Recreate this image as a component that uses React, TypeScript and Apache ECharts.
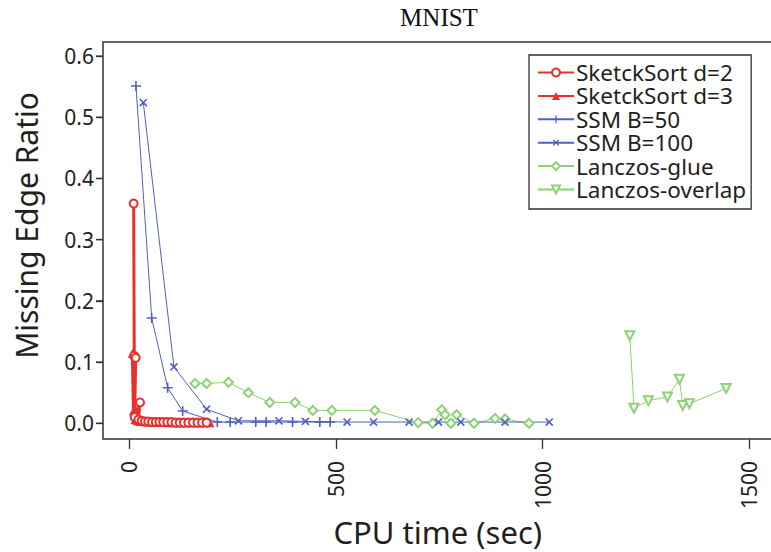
import React, { useEffect, useRef } from "react";
import * as echarts from "echarts";

// ---- data (CPU time in sec, missing edge ratio) ----
const sketchD2Time = [10.6, 12, 15.5, 13, 26, 22, 30, 38, 46, 55, 64, 73, 82, 92, 102, 112, 122, 132, 143, 154, 165, 176, 187];
const sketchD2Ratio = [0.359, 0.11, 0.107, 0.01, 0.034, 0.006, 0.004, 0.003, 0.003, 0.002, 0.002, 0.002, 0.002, 0.002, 0.002, 0.001, 0.001, 0.001, 0.001, 0.001, 0.001, 0.001, 0.001];

const sketchD3Time = [7.3, 10, 14, 19, 26, 34, 42, 50, 59, 68, 77, 87, 97, 107, 117, 128, 139, 150, 161, 172, 183, 195];
const sketchD3Ratio = [0.114, 0.02, 0.006, 0.004, 0.003, 0.003, 0.002, 0.002, 0.002, 0.002, 0.002, 0.002, 0.001, 0.001, 0.001, 0.001, 0.001, 0.001, 0.001, 0.001, 0.001, 0.001];

const ssm50Time = [16.2, 54.2, 92.9, 129.2, 213, 244, 306, 331, 395, 461, 486];
const ssm50Ratio = [0.551, 0.172, 0.058, 0.02, 0.002, 0.002, 0.002, 0.002, 0.002, 0.002, 0.002];

const ssm100Time = [33.9, 108, 187, 264, 362, 426, 527, 591, 677, 748, 802, 909, 1016];
const ssm100Ratio = [0.524, 0.092, 0.023, 0.004, 0.004, 0.003, 0.002, 0.002, 0.002, 0.002, 0.002, 0.002, 0.002];

const glueTime = [159, 187, 240, 288, 340, 401, 444, 490, 594, 699, 734, 756, 764, 778, 792, 834, 885, 909, 967];
const glueRatio = [0.065, 0.065, 0.067, 0.05, 0.034, 0.034, 0.021, 0.021, 0.021, 0.001, 0.0, 0.022, 0.014, 0.0, 0.014, 0.0, 0.008, 0.007, 0.0];

const overlapTime = [1211, 1221, 1256, 1302, 1331, 1339, 1355, 1444];
const overlapRatio = [0.143, 0.0245, 0.037, 0.043, 0.072, 0.029, 0.032, 0.057];

const seriesNames = ["SketckSort d=2", "SketckSort d=3", "SSM B=50", "SSM B=100", "Lanczos-glue", "Lanczos-overlap"];
const xTicks = [0, 500, 1000, 1500];
const yTicks = [0, 0.1, 0.2, 0.3, 0.4, 0.5, 0.6];

const X_MIN = -63.6;
const X_MAX = 1600;
const Y_MIN = -0.0257;
const Y_MAX = 0.623;

const zip = (a: number[], b: number[]) => a.map((v, i) => [v, b[i]]);

const RED = "#ea2f2c";
const BLUE = "#4f60c0";
const GREEN = "#8cd276";
const PLUS = "path://M4.2,0H5.8V4.2H10V5.8H5.8V10H4.2V5.8H0V4.2H4.2Z";
const FONT = "Noto Sans";

export default function App() {
  const ref = useRef<HTMLDivElement>(null);
  useEffect(() => {
    const chart = echarts.init(ref.current!, null, { renderer: "svg" });
    chart.setOption({
      animation: false,
      backgroundColor: "#fff",
      title: {
        text: "MNIST",
        left: 434,
        textAlign: "center",
        top: 0,
        textStyle: { fontFamily: "Liberation Serif", fontWeight: "normal", fontSize: 25, color: "#111" },
      },
      grid: {
        left: 103,
        top: 42,
        right: 9.4,
        bottom: 113,
        outerBoundsMode: "none",
        containLabel: false,
        show: true,
        borderColor: "#333",
        borderWidth: 1.5,
        backgroundColor: "transparent",
      },
      legend: {
        orient: "vertical",
        left: 529,
        top: 55,
        data: seriesNames,
        itemWidth: 36,
        itemHeight: 10,
        itemGap: 0.4,
        padding: [6, 5, 8, 8],
        borderColor: "#333",
        borderWidth: 1.3,
        backgroundColor: "#fff",
        textStyle: { fontFamily: FONT, fontSize: 22.5, lineHeight: 20, color: "#231f20", padding: [0, 0, 0, -3] },
      },
      xAxis: {
        type: "value",
        min: X_MIN,
        max: X_MAX,
        name: "CPU time (sec)",
        nameLocation: "middle",
        nameGap: 79,
        nameTextStyle: { fontFamily: FONT, fontSize: 31, lineHeight: 26, color: "#231f20", padding: [0, 18, 0, 0] },
        axisLine: { show: false, onZero: false },
        splitLine: { show: false },
        axisTick: { show: true, length: 10, customValues: xTicks, lineStyle: { color: "#333", width: 1.3 } },
        axisLabel: {
          customValues: xTicks,
          rotate: 90,
          margin: 22,
          fontFamily: FONT,
          fontSize: 21,
          color: "#231f20",
          formatter: (v: number) => String(v),
        },
      },
      yAxis: {
        type: "value",
        min: Y_MIN,
        max: Y_MAX,
        name: "Missing Edge Ratio",
        nameLocation: "middle",
        nameGap: 62,
        nameTextStyle: { fontFamily: FONT, fontSize: 30, color: "#231f20", padding: [0, 0, 0, 30] },
        axisLine: { show: false, onZero: false },
        splitLine: { show: false },
        axisTick: { show: true, length: 7, customValues: yTicks, lineStyle: { color: "#333", width: 1.3 } },
        axisLabel: {
          customValues: yTicks,
          margin: 9,
          fontFamily: FONT,
          fontSize: 21,
          color: "#231f20",
          formatter: (v: number) => v.toFixed(1),
        },
      },
      series: [
        {
          name: "Lanczos-glue",
          type: "line",
          data: zip(glueTime, glueRatio),
          color: GREEN,
          symbol: "emptyDiamond",
          symbolSize: 9,
          itemStyle: { borderWidth: 1.3 },
          lineStyle: { width: 1 },
        },
        {
          name: "Lanczos-overlap",
          type: "line",
          data: zip(overlapTime, overlapRatio),
          color: GREEN,
          symbol: "emptyTriangle",
          symbolRotate: 180,
          symbolSize: 9,
          itemStyle: { borderWidth: 1.3 },
          lineStyle: { width: 1 },
        },
        {
          name: "SSM B=50",
          type: "line",
          data: zip(ssm50Time, ssm50Ratio),
          color: BLUE,
          symbol: PLUS,
          symbolSize: 10,
          lineStyle: { width: 1 },
        },
        {
          name: "SSM B=100",
          type: "line",
          data: zip(ssm100Time, ssm100Ratio),
          color: BLUE,
          symbol: PLUS,
          symbolRotate: 45,
          symbolSize: 10,
          lineStyle: { width: 1 },
        },
        {
          name: "SketckSort d=3",
          type: "line",
          data: zip(sketchD3Time, sketchD3Ratio),
          color: RED,
          symbol: "triangle",
          symbolSize: 9,
          lineStyle: { width: 3 },
        },
        {
          name: "SketckSort d=2",
          type: "line",
          data: zip(sketchD2Time, sketchD2Ratio),
          color: RED,
          symbol: "emptyCircle",
          symbolSize: 8,
          itemStyle: { borderWidth: 2 },
          lineStyle: { width: 3 },
        },
      ],
    });
    // y-axis tick marks placed through the chart's own scales
    const leftPx = chart.convertToPixel({ xAxisIndex: 0 }, X_MIN) as number;
    chart.setOption({
      graphic: yTicks.map((v) => {
        const py = chart.convertToPixel({ yAxisIndex: 0 }, v) as number;
        return {
          type: "line",
          shape: { x1: leftPx - 7, y1: py, x2: leftPx, y2: py },
          style: { stroke: "#333", lineWidth: 1.3 },
          silent: true,
        };
      }),
    });
    return () => chart.dispose();
  }, []);
  return (
    <div style={{ position: "fixed", left: 0, top: 0, width: 771, height: 552, overflow: "hidden" }}>
      <div ref={ref} style={{ width: 800, height: 552 }} />
    </div>
  );
}
